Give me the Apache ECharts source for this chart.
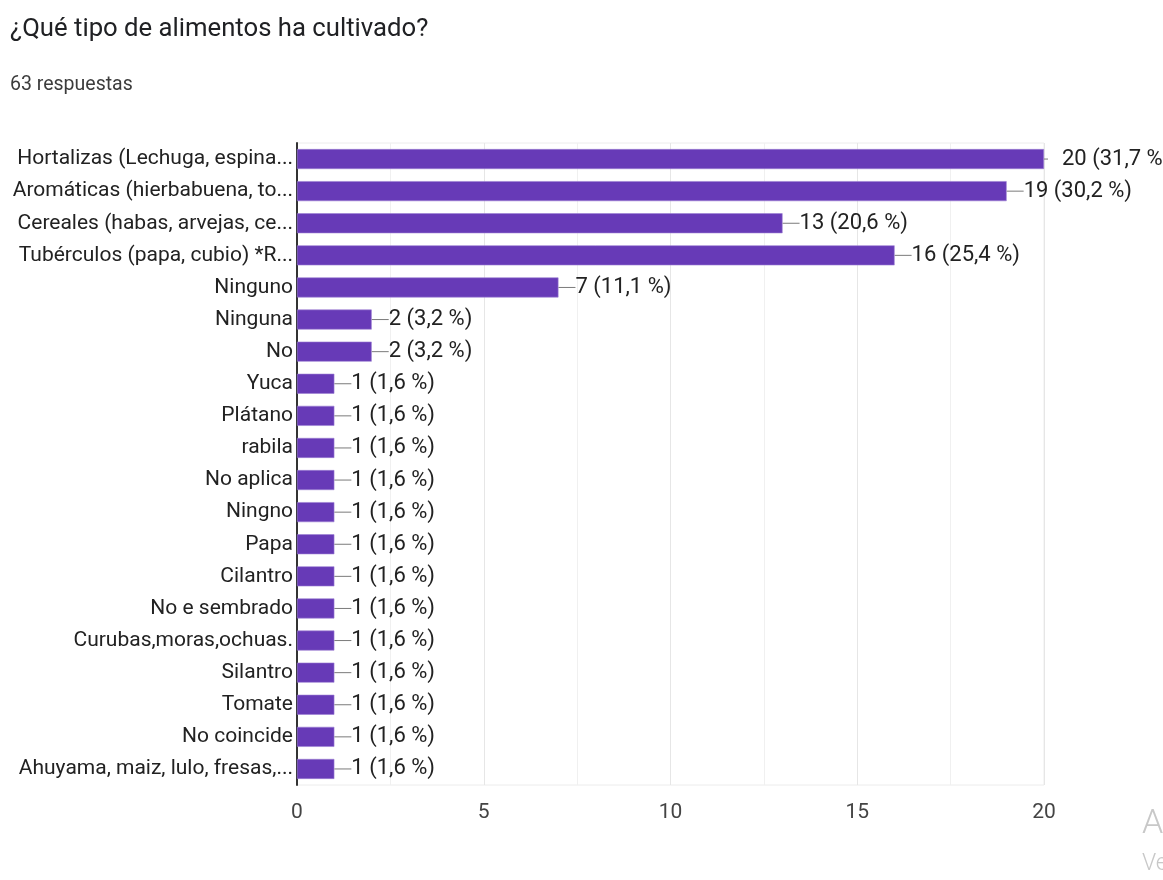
<!DOCTYPE html>
<html>
<head>
<meta charset="utf-8">
<title>¿Qué tipo de alimentos ha cultivado?</title>
<script src="https://cdn.jsdelivr.net/npm/echarts@6/dist/echarts.min.js"></script>
<style>
  html, body { margin: 0; padding: 0; background: #fff; }
  #chart { width: 1163px; height: 880px; }
</style>
</head>
<body>
<div id="chart"></div>
<script>
// Survey answers: what kind of food has been grown
const totalResponses = 63;

const categories = [
  'Hortalizas (Lechuga, espina...',
  'Aromáticas (hierbabuena, to...',
  'Cereales (habas, arvejas, ce...',
  'Tubérculos (papa, cubio) *R...',
  'Ninguno',
  'Ninguna',
  'No',
  'Yuca',
  'Plátano',
  'rabila',
  'No aplica',
  'Ningno',
  'Papa',
  'Cilantro',
  'No e sembrado',
  'Curubas,moras,ochuas.',
  'Silantro',
  'Tomate',
  'No coincide',
  'Ahuyama, maiz, lulo, fresas,...'
];

const counts = [20, 19, 13, 16, 7, 2, 2, 1, 1, 1, 1, 1, 1, 1, 1, 1, 1, 1, 1, 1];

const xTicks = [0, 5, 10, 15, 20];

const FONT = 'Roboto';
const PURPLE = '#673ab7';

function pct(v) {
  return (v / totalResponses * 100).toFixed(1).replace('.', ',');
}

const chart = echarts.init(document.getElementById('chart'), null, { renderer: 'canvas' });

const seriesData = counts.map((v, i) => {
  const item = { value: v };
  if (i === 0) {
    // the longest bar gets a short stub and a gap before its text
    item.label = {
      formatter: p => '{stub|}{gap|}{v|' + p.value + ' (' + pct(p.value) + ' %)}'
    };
  }
  return item;
});

chart.setOption({
  animation: false,
  backgroundColor: '#fff',
  textStyle: { fontFamily: FONT },
  title: [
    {
      text: '¿Qué tipo de alimentos ha cultivado?',
      left: 5, top: 12,
      textStyle: { fontFamily: FONT, fontSize: 25.7, fontWeight: 'normal', color: '#202124' }
    },
    {
      text: totalResponses + ' respuestas',
      left: 5, top: 70,
      textStyle: { fontFamily: FONT, fontSize: 19.5, fontWeight: 'normal', color: '#3c3c3c' }
    }
  ],
  grid: {
    left: 297, right: 119, top: 143, bottom: 95,
    show: true, borderColor: '#ececec', borderWidth: 1
  },
  xAxis: {
    type: 'value',
    min: xTicks[0],
    max: xTicks[xTicks.length - 1],
    interval: 5,
    axisLine: { show: false },
    axisTick: { show: false },
    axisLabel: {
      margin: 17,
      fontFamily: FONT, fontSize: 21, color: '#444',
      formatter: v => (xTicks.indexOf(v) >= 0 ? String(v) : '')
    },
    splitLine: { show: true, lineStyle: { color: '#e6e6e6', width: 1 } },
    minorTick: { show: false, splitNumber: 2 },
    minorSplitLine: { show: true, lineStyle: { color: '#f0f0f0', width: 1 } }
  },
  yAxis: {
    type: 'category',
    inverse: true,
    data: categories,
    axisLine: { show: true, lineStyle: { color: '#333', width: 2 } },
    axisTick: { show: false },
    axisLabel: {
      margin: 4,
      fontFamily: FONT, fontSize: 21, color: '#222'
    },
    splitLine: { show: false }
  },
  series: [
    {
      type: 'bar',
      data: seriesData,
      barWidth: 20,
      itemStyle: { color: PURPLE, borderColor: '#9c7fd4', borderWidth: 0.6 },
      label: {
        show: true,
        position: 'right',
        distance: 0,
        color: '#222',
        fontFamily: FONT,
        fontSize: 22,
        formatter: p => '{ln|}{v|' + p.value + ' (' + pct(p.value) + ' %)}',
        rich: {
          ln: { width: 17, height: 1, backgroundColor: '#7a7a7a' },
          stub: { width: 4, height: 1, backgroundColor: '#7a7a7a' },
          gap: { width: 14, height: 1 },
          v: { fontFamily: FONT, fontSize: 22, color: '#222' }
        }
      }
    }
  ],
  graphic: [
    {
      type: 'text', left: 1142, top: 807,
      style: { text: 'Activar Windows', fontFamily: FONT, fontSize: 34, fontWeight: 300, fill: '#c8c8c8' }
    },
    {
      type: 'text', left: 1142, top: 853,
      style: { text: 'Ve a Configuración para activar Windows.', fontFamily: FONT, fontSize: 23, fontWeight: 300, fill: '#c8c8c8' }
    }
  ]
});
</script>
</body>
</html>
